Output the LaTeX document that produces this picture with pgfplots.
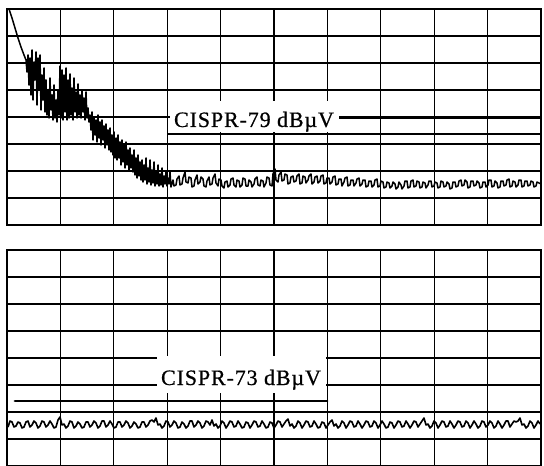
\documentclass[border=0pt]{standalone}
\usepackage{pgfplots}
\pgfplotsset{compat=1.18}
\usepackage{fontspec}
\setmainfont{Liberation Serif}
\newfontfamily\labfont[LetterSpace=4,FakeBold=0.6]{Liberation Serif}

\pgfplotstableread{
x y
9 9
12 18
15 28
18 38
21 47
24 55
26 60
27 72
28 55
29 85
30 58
31 95
32 50
33 100
34 62
35 80
36 52
37 105
38 58
39 90
40 55
41 110
42 75
43 100
44 68
45 112
46 80
47 115
48 90
49 118
50 78
51 110
52 95
53 120
54 85
55 118
56 100
57 122
58 90
59 115
60 66
61 118
62 70
63 120
64 75
65 112
66 68
67 120
68 80
69 118
70 74
71 115
72 88
73 120
74 78
75 112
76 92
77 118
78 84
79 115
80 95
81 118
82 90
83 112
84 98
85 120
86 92
87 118
88 108
89 122
90 115
91 130
92 112
93 140
94 118
95 135
96 120
97 142
98 115
99 138
100 122
101 145
102 120
103 140
104 126
105 148
106 124
107 145
108 130
109 150
110 128
111 152
112 135
113 155
114 132
115 158
116 138
117 160
118 135
119 158
120 142
121 165
122 140
123 162
124 145
125 168
126 142
127 165
128 150
129 170
130 148
131 168
132 155
133 172
134 150
135 175
136 158
137 178
138 155
139 176
140 162
141 180
142 160
143 182
144 165
145 180
146 158
147 184
148 168
149 182
150 160
151 185
152 170
153 183
154 162
155 186
156 172
157 184
158 165
159 186
160 174
161 185
162 168
163 187
164 176
165 184
166 172
167 186
168 178
169 184
170 172
171 187
173 180
174 186
176 185
177 179
179 176
180 185
182 184
183 178
185 172
186 182
188 183
189 177
191 178
192 187
194 186
195 180
197 175
198 184
200 182
201 177
203 179
204 186
206 187
207 181
209 177
210 185
212 184
213 178
215 174
216 183
218 186
219 179
221 180
222 186
224 188
225 182
227 181
228 187
230 185
231 179
233 178
234 185
236 187
237 180
239 181
240 187
242 185
243 178
245 179
246 186
248 186
249 180
251 182
252 187
254 184
255 179
257 177
258 185
260 186
261 180
263 181
264 187
266 183
267 177
269 178
270 185
272 186
273 174
275 169
276 180
278 182
279 175
281 172
282 181
284 180
285 174
287 175
288 184
290 183
291 177
293 176
294 182
296 181
297 176
299 174
300 184
302 183
303 176
305 177
306 183
308 180
309 176
311 174
312 184
314 182
315 177
317 176
318 183
320 181
321 176
323 175
324 184
326 183
327 178
329 178
330 184
332 182
333 177
335 176
336 185
338 184
339 179
341 179
342 186
344 182
345 178
347 177
348 186
350 185
351 180
353 180
354 186
356 183
357 179
359 178
360 186
362 184
363 180
365 180
366 187
368 186
369 181
371 181
372 187
374 185
375 180
377 179
378 187
380 186
381 181
383 182
384 188
386 187
387 182
389 183
390 188
392 186
393 182
395 184
396 189
398 187
399 182
401 185
402 189
404 186
405 181
407 181
408 188
410 187
411 181
413 180
414 187
416 186
417 181
419 182
420 188
422 187
423 182
425 183
426 188
428 185
429 181
431 181
432 187
434 186
435 182
437 183
438 188
440 187
441 181
443 182
444 187
446 186
447 182
449 184
450 189
452 188
453 182
455 182
456 187
458 186
459 181
461 180
462 186
464 185
465 180
467 182
468 188
470 187
471 181
473 181
474 186
476 185
477 181
479 183
480 188
482 187
483 182
485 182
486 187
488 185
489 180
491 180
492 187
494 186
495 181
497 183
498 188
500 187
501 181
503 181
504 186
506 185
507 180
509 179
510 187
512 186
513 181
515 182
516 187
518 185
519 180
521 180
522 187
524 186
525 181
527 181
528 186
530 185
531 181
533 182
534 187
536 186
537 182
539 183
541 184
}\toptrace

\pgfplotstableread{
x y
8 427
10 421
12 422
14 427
16 426
18 422
20 423
22 428
24 427
26 422
28 421
30 427
32 425
34 421
36 423
38 428
40 426
42 421
44 422
46 427
48 425
50 421
52 424
54 428
56 427
58 420
60 417
62 425
64 424
66 428
68 426
70 421
72 422
74 428
76 426
78 422
80 424
82 428
84 427
86 422
88 422
90 427
92 425
94 421
96 423
98 428
100 426
102 421
104 421
106 427
108 425
110 421
112 424
114 428
116 427
118 422
120 422
122 427
124 425
126 421
128 423
130 428
132 426
134 422
136 424
138 428
140 427
142 422
144 422
146 427
148 425
150 421
152 420
154 422
156 418
158 425
160 424
162 428
164 426
166 421
168 422
170 427
172 425
174 421
176 423
178 428
180 427
182 422
184 424
186 428
188 426
190 421
192 421
194 427
196 425
198 421
200 423
202 428
204 426
206 421
208 422
210 425
212 420
214 426
216 424
218 428
220 426
222 421
224 423
226 428
228 425
230 421
232 422
234 427
236 426
238 421
240 424
242 428
244 427
246 422
248 423
250 428
252 425
254 421
256 422
258 427
260 426
262 421
264 424
266 428
268 427
270 422
272 423
274 428
276 425
278 421
280 422
282 427
284 424
286 421
288 419
290 426
292 424
294 428
296 426
298 421
300 423
302 428
304 425
306 421
308 422
310 427
312 426
314 421
316 424
318 428
320 427
322 422
324 423
326 428
328 425
330 422
332 420
334 426
336 424
338 428
340 426
342 421
344 423
346 428
348 425
350 421
352 422
354 427
356 426
358 421
360 424
362 428
364 425
366 421
368 422
370 427
372 426
374 421
376 423
378 428
380 425
382 421
384 424
386 428
388 427
390 422
392 423
394 428
396 425
398 421
400 422
402 427
404 426
406 421
408 424
410 428
412 425
414 421
416 422
418 427
420 424
422 421
424 418
426 425
428 424
430 428
432 426
434 421
436 423
438 428
440 425
442 421
444 422
446 427
448 426
450 421
452 424
454 428
456 425
458 421
460 422
462 427
464 426
466 421
468 423
470 428
472 425
474 421
476 424
478 428
480 426
482 421
484 422
486 427
488 425
490 421
492 423
494 428
496 426
498 421
500 424
502 428
504 425
506 421
508 421
510 427
512 424
514 421
516 422
518 421
520 418
522 425
524 424
526 428
528 426
530 421
532 423
534 428
536 425
538 421
540 424
}\bottomtrace

\pgfplotsset{
  scopegrid/.style={
    anchor=south west, scale only axis, width=534pt, height=216pt,
    xmin=7, xmax=541, y dir=reverse,
    xtick={7,60.4,113.8,167.2,220.6,274,327.4,380.8,434.2,487.6,541},
    xticklabels={}, yticklabels={}, major tick length=0pt,
    grid=major, major grid style={black, line width=1.2pt},
    axis line style={black, line width=1.6pt},
    clip=false,
  }
}

\begin{document}
\begin{tikzpicture}
\useasboundingbox (0,0) rectangle (544pt,466pt);
% top panel
\begin{axis}[scopegrid, at={(7pt,241pt)}, ymin=9, ymax=225,
  ytick={9,36,63,90,117,144,171,198,225}]
\addplot[black, line width=1.5pt, line join=round] table[x=x,y=y] {\toptrace};
\fill[white] (axis cs:170,101) rectangle (axis cs:339,132);
\addplot[black, line width=1.8pt] coordinates {(339,118) (541,118)};
\addplot[black, line width=2.8pt] coordinates {(167,134) (541,134)};
\node[anchor=base, inner sep=0pt, font=\labfont\fontsize{22}{22}\selectfont] at (axis cs:254,127) {CISPR-79 dBµV};
\end{axis}
% bottom panel
\begin{axis}[scopegrid, at={(7pt,0pt)}, ymin=250, ymax=466,
  ytick={250,277,304,331,358,385,412,439,466}]
\addplot[black, line width=1.6pt, line join=round] table[x=x,y=y] {\bottomtrace};
\fill[white] (axis cs:157,356) rectangle (axis cs:326,393);
\addplot[black, line width=2.8pt, line cap=round] coordinates {(15,401) (327,401)};
\node[anchor=base, inner sep=0pt, font=\labfont\fontsize{22}{22}\selectfont] at (axis cs:241,385) {CISPR-73 dBµV};
\end{axis}
\end{tikzpicture}
\end{document}
